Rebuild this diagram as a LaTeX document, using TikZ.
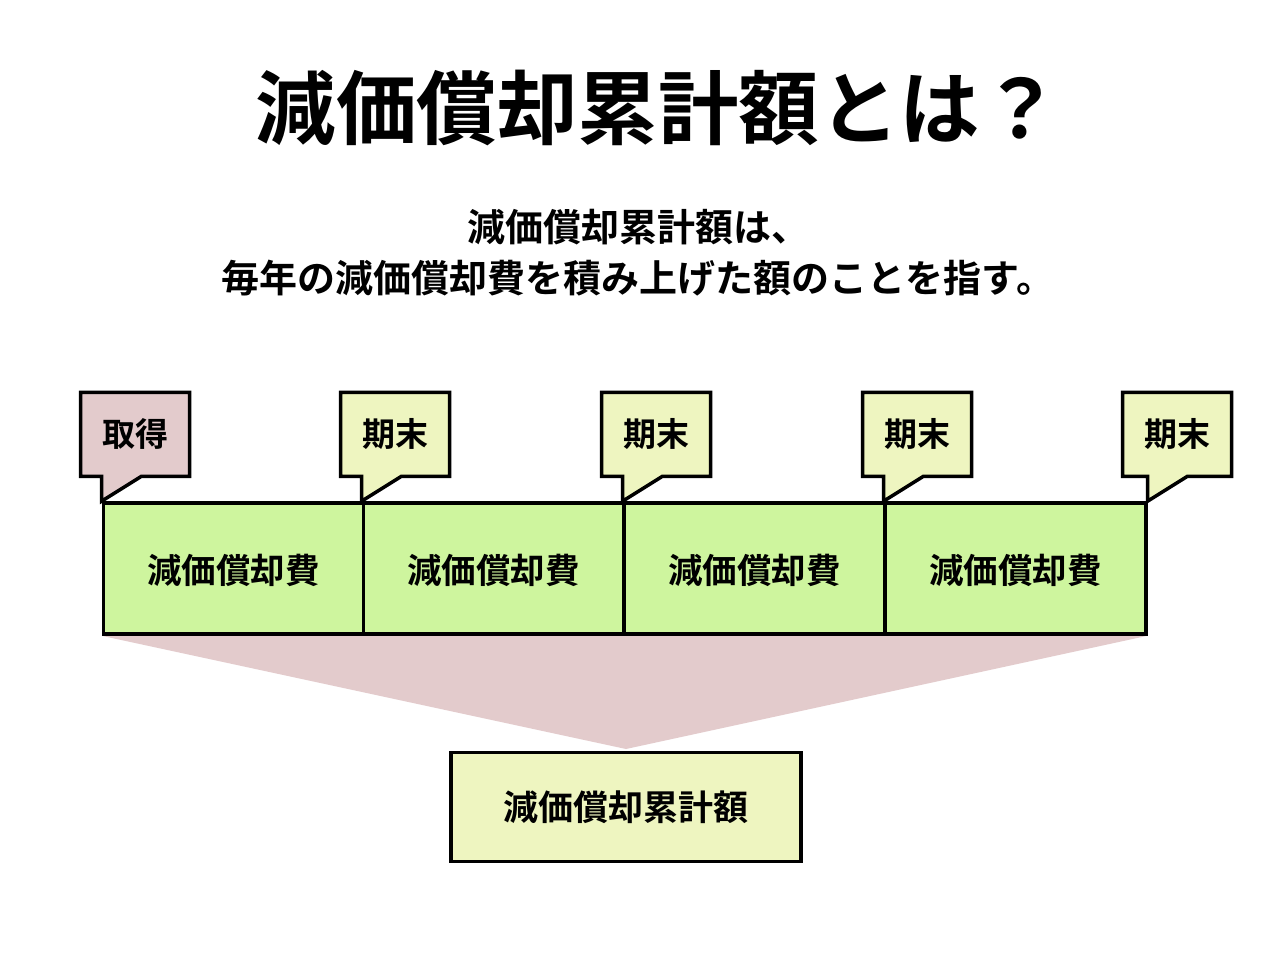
\documentclass[tikz,border=0pt]{standalone}
\usepackage{fontspec}
\usetikzlibrary{backgrounds}
\setmainfont{Noto Sans CJK JP Bold}
\definecolor{boxgreen}{RGB}{206,245,158}
\definecolor{tagpink}{RGB}{227,203,204}
\definecolor{tagyellow}{RGB}{238,245,192}
\begin{document}
\begin{tikzpicture}[x=1pt,y=-1pt,
  line join=miter,
  costbox/.style={draw=black, line width=3.5pt, fill=boxgreen, inner sep=0pt,
    minimum width=260.5pt, minimum height=131pt, font=\fontsize{34.5}{40}\selectfont},
  totalbox/.style={draw=black, line width=3.5pt, fill=tagyellow, inner sep=0pt,
    minimum width=350pt, minimum height=109pt, font=\fontsize{35}{40}\selectfont},
  tagshape/.style={draw=black, line width=3.5pt},
  tagtext/.style={inner sep=0pt, font=\fontsize{33}{38}\selectfont},
  fan/.style={fill=tagpink}]
\useasboundingbox (0,0) rectangle (1280,960);

\node[inner sep=0pt, font=\fontsize{80.5}{90}\selectfont] (title) at (658,108) {減価償却累計額とは？};
\node[inner sep=0pt, font=\fontsize{38}{44}\selectfont] (sub1) at (638,227) {減価償却累計額は、};
\node[inner sep=0pt, font=\fontsize{38}{44}\selectfont] (sub2) at (638,278) {毎年の減価償却費を積み上げた額のことを指す。};

% cost boxes
\node[costbox, text depth=-3pt] (b1) at (233.5,568.5) {減価償却費};
\node[costbox, text depth=-3pt] (b2) at (493.5,568.5) {減価償却費};
\node[costbox, text depth=-3pt] (b3) at (754.5,568.5) {減価償却費};
\node[costbox, text depth=-3pt] (b4) at (1015.5,568.5) {減価償却費};

% total box
\node[totalbox] (total) at (626,807) {減価償却累計額};
\coordinate (apex) at (626,749);

% fan shape behind the boxes
\begin{scope}[on background layer]
  \fill[white] (0,0) rectangle (1280,960);
  \fill[fan] (b1.south west) -- (b4.south east) -- (apex) -- cycle;
\end{scope}

% tag anchor points
\coordinate (t0) at (b1.north west);
\coordinate (t1) at (b2.north west);
\coordinate (t2) at (b3.north west);
\coordinate (t3) at (b4.north west);
\coordinate (t4) at (b4.north east);

% tags
\draw[tagshape, fill=tagpink, shift={(t0)}] (-21,-109) -- (88,-109) -- (88,-25) -- (40,-25) -- (0,0) -- (0,-25) -- (-21,-25) -- cycle;
\node[tagtext] (tag0) at ([shift={(34,-67)}]t0) {取得};
\foreach \t/\n/\dx in {t1/tag1/0, t2/tag2/0, t3/tag3/0, t4/tag4/-4}{
  \draw[tagshape, fill=tagyellow, shift={(\t)}] (-21+\dx,-109) -- (88+\dx,-109) -- (88+\dx,-25) -- (40,-25) -- (0,0) -- (0,-25) -- (-21+\dx,-25) -- cycle;
  \node[tagtext] (\n) at ([shift={(34+\dx,-67)}]\t) {期末};
}
\end{tikzpicture}
\end{document}
